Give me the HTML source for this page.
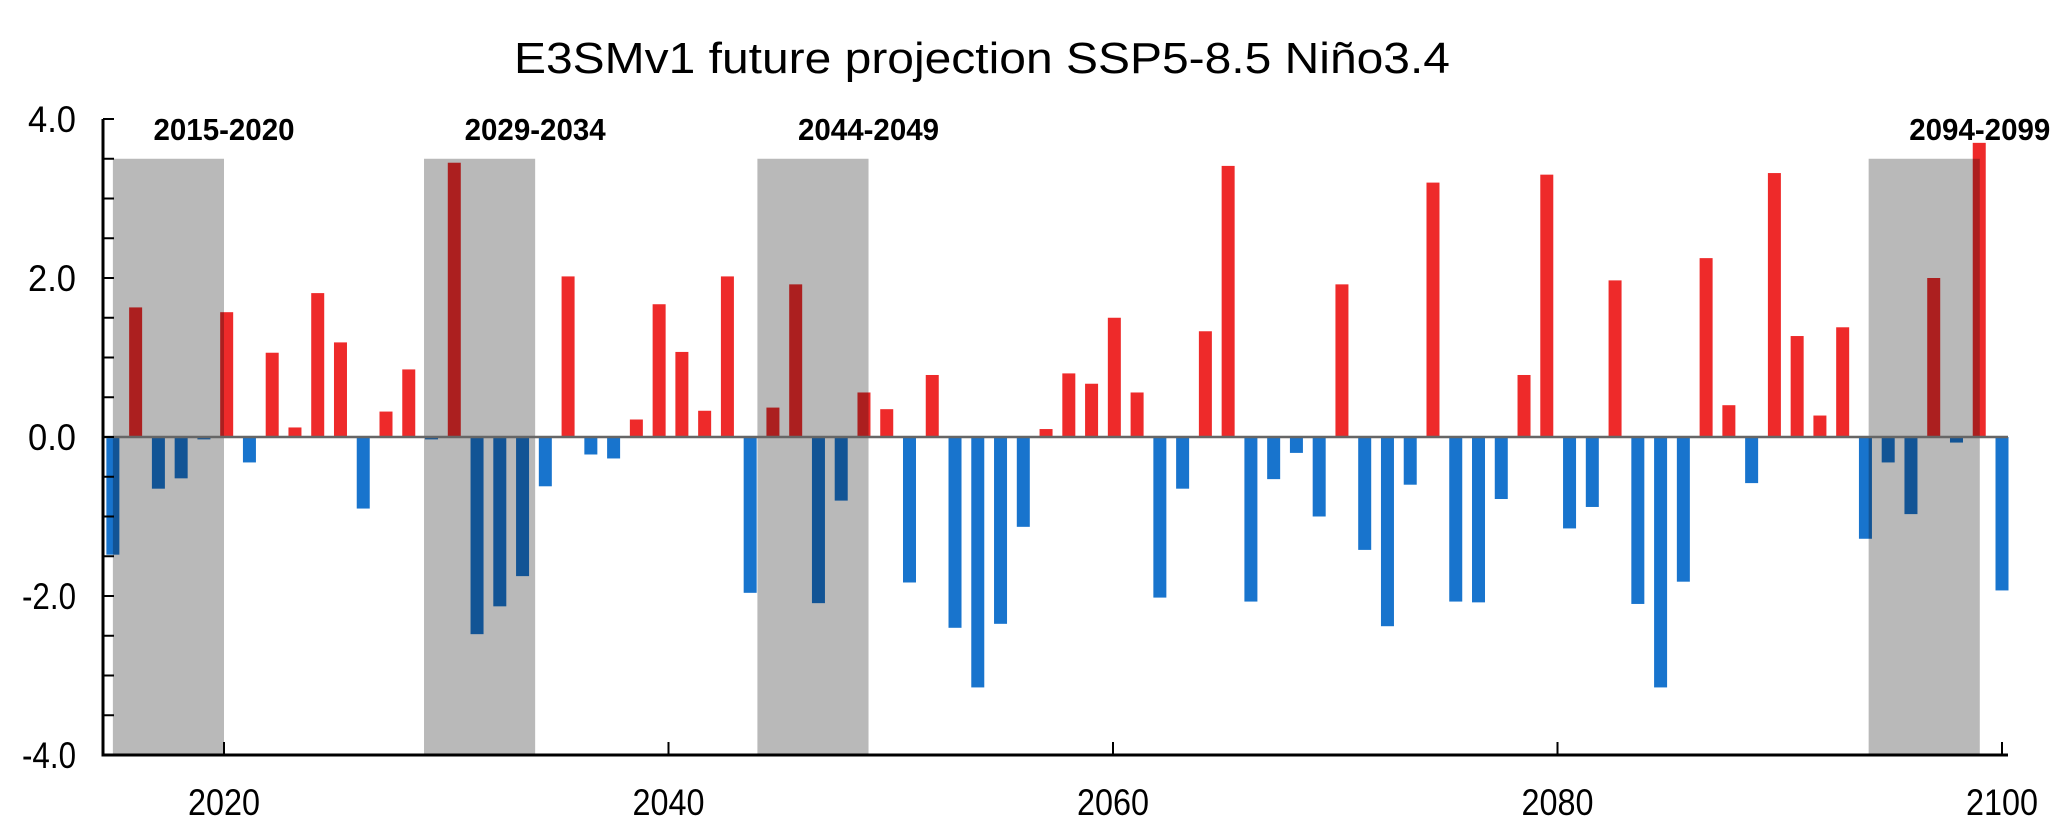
<!DOCTYPE html>
<html><head><meta charset="utf-8"><style>
html,body{margin:0;padding:0;background:#fff;}
svg{display:block;font-family:"Liberation Sans",sans-serif;}
</style></head><body>
<svg id="chart" width="2067" height="827" viewBox="0 0 2067 827" xmlns="http://www.w3.org/2000/svg">
<text x="982" y="73" font-size="44" text-anchor="middle" textLength="936" lengthAdjust="spacingAndGlyphs">E3SMv1 future projection SSP5-8.5 Niño3.4</text>
<g id="bars"></g>
<g id="bands"></g>
<g id="axes"></g>
</svg>
<script>
const values = [-1.48,1.63,-0.65,-0.52,-0.03,1.57,-0.32,1.06,0.12,1.81,1.19,-0.9,0.32,0.85,-0.03,3.45,-2.48,-2.13,-1.75,-0.62,2.02,-0.22,-0.27,0.22,1.67,1.07,0.33,2.02,-1.96,0.37,1.92,-2.09,-0.8,0.56,0.35,-1.83,0.78,-2.4,-3.15,-2.35,-1.13,0.1,0.8,0.67,1.5,0.56,-2.02,-0.65,1.33,3.41,-2.07,-0.53,-0.2,-1.0,1.92,-1.42,-2.38,-0.6,3.2,-2.07,-2.08,-0.78,0.78,3.3,-1.15,-0.88,1.97,-2.1,-3.15,-1.82,2.25,0.4,-0.58,3.32,1.27,0.27,1.38,-1.28,-0.32,-0.97,2.0,-0.07,3.7,-1.93];
const firstYear = 2015, lastYear = 2100;
const bandStarts = [2015,2029,2044,2094];
const bandEnds = [2020,2034,2049,2099];
const bandLabels = ["2015-2020","2029-2034","2044-2049","2094-2099"];
const bandTop = 3.5;
const xTicks = [2020,2040,2060,2080,2100];
const yTickLabels = ["4.0","2.0","0.0","-2.0","-4.0"];
const yTickVals = [4,2,0,-2,-4];

const NS="http://www.w3.org/2000/svg";
function x(yr){return 224+(yr-2020)*22.225;}
function y(v){return 437-v*79.5;}
function xb(i){return x(firstYear)+i*(x(lastYear)-x(firstYear))/(values.length-1);}
function mk(tag,attrs,parent){const e=document.createElementNS(NS,tag);for(const k in attrs)e.setAttribute(k,attrs[k]);parent.appendChild(e);return e;}
const bars=document.getElementById('bars'),bands=document.getElementById('bands'),axes=document.getElementById('axes');
values.forEach((v,i)=>{
  const r=mk('rect',{x:xb(i)-6.5,y:Math.min(y(v),y(0)),width:13,height:Math.abs(y(v)-y(0)),fill:v>=0?'#ee2a2a':'#1874cd'},bars);
  
  
});
bandStarts.forEach((s,i)=>{
  const r=mk('rect',{x:x(s),y:y(bandTop),width:x(bandEnds[i])-x(s),height:y(-4)-y(bandTop),fill:'#b9b9b9',style:'mix-blend-mode:multiply'},bands);
  
  
  const t=mk('text',{x:x(bandEnds[i]),y:140,'font-size':31,'font-weight':'bold','text-anchor':'middle',textLength:141,lengthAdjust:'spacingAndGlyphs'},bands);
  t.textContent=bandLabels[i];
  
  
});
const z=mk('line',{x1:103,x2:2008,y1:y(0),y2:y(0),stroke:'#666',"stroke-width":2.5},axes);


const ya=mk('line',{x1:103,x2:103,y1:y(4),y2:y(-4)+1.5,stroke:'#000',"stroke-width":3},axes);


const xa=mk('line',{x1:101.5,x2:2008,y1:y(-4),y2:y(-4),stroke:'#000',"stroke-width":3},axes);


for(let k=0;k<=16;k++){
  const v=4-k*0.5;
  const tk=mk('line',{x1:103,x2:114,y1:y(v),y2:y(v),stroke:'#000',"stroke-width":2},axes);
  
  
}
yTickVals.forEach((v,i)=>{
  const t=mk('text',{x:76,y:y(v)+13,'font-size':37,'text-anchor':'end',textLength:yTickLabels[i].length>3?54:48,lengthAdjust:'spacingAndGlyphs'},axes);
  t.textContent=yTickLabels[i];
  
  
});
xTicks.forEach(yr=>{
  const tk=mk('line',{x1:x(yr),x2:x(yr),y1:y(-4),y2:y(-4)-13,stroke:'#000',"stroke-width":2},axes);
  
  
  const t=mk('text',{x:x(yr),y:815,'font-size':37,'text-anchor':'middle',textLength:72,lengthAdjust:'spacingAndGlyphs'},axes);
  t.textContent=String(yr);
  
  
});
</script>
</body></html>
